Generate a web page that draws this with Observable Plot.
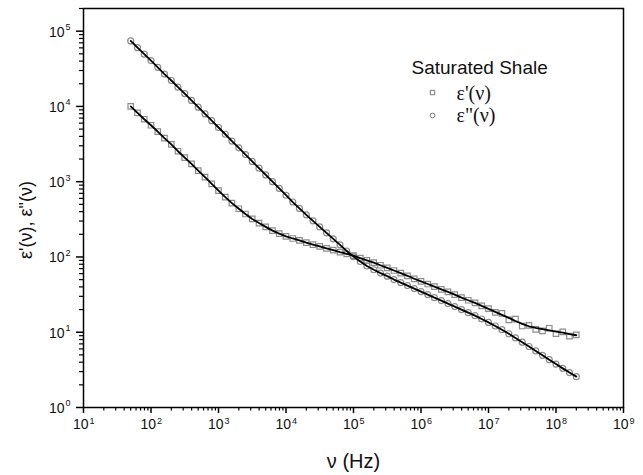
<!DOCTYPE html>
<html>
<head>
<meta charset="utf-8">
<script src="https://cdn.jsdelivr.net/npm/d3@7"></script>
<script src="https://cdn.jsdelivr.net/npm/@observablehq/plot@0.6"></script>
<style>
  html, body { margin: 0; padding: 0; background: #fff; }
  #chart { width: 643px; height: 475px; }
</style>
</head>
<body>
<div id="chart"></div>
<script>
// Frequencies (Hz)
const freq = [
  5.01e1, 6.31e1, 7.94e1,
  1.00e2, 1.26e2, 1.58e2, 2.00e2, 2.51e2, 3.16e2, 3.98e2, 5.01e2, 6.31e2, 7.94e2,
  1.00e3, 1.26e3, 1.58e3, 2.00e3, 2.51e3, 3.16e3, 3.98e3, 5.01e3, 6.31e3, 7.94e3,
  1.00e4, 1.26e4, 1.58e4, 2.00e4, 2.51e4, 3.16e4, 3.98e4, 5.01e4, 6.31e4, 7.94e4,
  1.00e5, 1.26e5, 1.58e5, 2.00e5, 2.51e5, 3.16e5, 3.98e5, 5.01e5, 6.31e5, 7.94e5,
  1.00e6, 1.26e6, 1.58e6, 2.00e6, 2.51e6, 3.16e6, 3.98e6, 5.01e6, 6.31e6, 7.94e6,
  1.00e7, 1.26e7, 1.58e7, 2.00e7, 2.51e7, 3.16e7, 3.98e7, 5.01e7, 6.31e7, 7.94e7,
  1.00e8, 1.26e8, 1.58e8, 2.00e8
];

// ε'(ν) measured (squares)
const epsReal = [
  1.00e4, 8.22e3, 6.76e3,
  5.62e3, 4.62e3, 3.80e3, 3.13e3, 2.54e3, 2.09e3, 1.72e3, 1.40e3, 1.15e3, 933,
  759, 624, 519, 437, 372, 320, 282, 251, 224, 204,
  188, 176, 166, 155, 146, 138, 130, 123, 116, 110,
  104, 96.6, 90.2, 84.1, 77.6, 71.6, 66.1, 61.0, 56.2, 51.3,
  47.3, 43.7, 40.3, 37.2, 34.3, 31.6, 28.8, 26.6, 24.5, 22.4,
  20.6, 18.4, 17.8, 14.6, 14.9, 12.1, 12.3, 10.9, 10.4, 11.3,
  9.6, 10.1, 8.9, 9.2
];

// ε'(ν) fitted curve (solid line)
const epsRealFit = [
  1.00e4, 8.22e3, 6.76e3,
  5.62e3, 4.62e3, 3.80e3, 3.13e3, 2.54e3, 2.09e3, 1.72e3, 1.40e3, 1.15e3, 933,
  759, 624, 519, 437, 372, 320, 282, 251, 224, 204,
  188, 176, 166, 155, 146, 138, 130, 123, 116, 110,
  104, 96.6, 90.2, 84.1, 77.6, 71.6, 66.1, 61.0, 56.2, 51.3,
  47.3, 43.7, 40.3, 37.2, 34.3, 31.6, 28.8, 26.6, 24.5, 22.4,
  20.4, 18.6, 17.0, 15.5, 14.1, 12.9, 12.0, 11.4, 11.0, 10.6,
  10.2, 9.89, 9.44, 9.12
];

// ε''(ν) measured (circles) and curve
const epsImag = [
  7.41e4, 6.03e4, 4.95e4,
  4.07e4, 3.31e4, 2.69e4, 2.21e4, 1.80e4, 1.48e4, 1.20e4, 9.77e3, 7.94e3, 6.46e3,
  5.25e3, 4.27e3, 3.47e3, 2.82e3, 2.29e3, 1.86e3, 1.51e3, 1.23e3, 1.00e3, 813,
  661, 537, 442, 363, 302, 251, 209, 174, 145, 120,
  101, 87.1, 75.9, 67.6, 61.0, 55.6, 50.1, 45.7, 41.7, 38.0,
  34.7, 31.6, 28.8, 26.3, 24.0, 21.9, 20.0, 18.2, 16.6, 15.0,
  13.5, 12.1, 10.8, 9.55, 8.41, 7.38, 6.46, 5.65, 4.94, 4.32,
  3.78, 3.31, 2.91, 2.57
];

// Axis ticks
const xTicks = [1e1, 1e2, 1e3, 1e4, 1e5, 1e6, 1e7, 1e8, 1e9];
const yTicks = [1e0, 1e1, 1e2, 1e3, 1e4, 1e5];
const mult = [2, 3, 4, 5, 6, 7, 8, 9];
const xMinor = xTicks.slice(0, -1).flatMap(d => mult.map(m => d * m));
const yMinor = yTicks.flatMap(d => mult.map(m => d * m)).filter(v => v <= 2e5);

const realPts = freq.map((f, i) => ({f, v: epsReal[i]}));
const realFit = freq.map((f, i) => ({f, v: epsRealFit[i]}));
const imagPts = freq.map((f, i) => ({f, v: epsImag[i]}));

const sans = "Liberation Sans, Arial, Helvetica, sans-serif";
const serif = "Liberation Serif, Times New Roman, serif";
const exp = d => String(Math.round(Math.log10(d)));

const chart = Plot.plot({
  width: 643,
  height: 475,
  marginLeft: 83,
  marginRight: 20,
  marginTop: 8,
  marginBottom: 68,
  style: {fontFamily: sans, background: "#fff", color: "#000"},
  x: {type: "log", domain: [10, 1e9]},
  y: {type: "log", domain: [1, 2e5]},
  marks: [
    // axes ticks
    Plot.axisX(xMinor, {anchor: "bottom", tickSize: 3.5, tickFormat: () => "", label: null, strokeWidth: 1.2}),
    Plot.axisX(xTicks, {anchor: "bottom", tickSize: 6, tickFormat: () => "", label: null, strokeWidth: 1.5}),
    Plot.axisY(yMinor, {anchor: "left", tickSize: 4, tickFormat: () => "", label: null, strokeWidth: 1.2}),
    Plot.axisY(yTicks, {anchor: "left", tickSize: 7, tickFormat: () => "", label: null, strokeWidth: 1.5}),
    // x tick labels
    Plot.text(xTicks, {x: d => d, frameAnchor: "bottom", lineAnchor: "middle", text: () => "10", textAnchor: "end", dx: 5, dy: 17.5, fontSize: 14, fill: "#111"}),
    Plot.text(xTicks, {x: d => d, frameAnchor: "bottom", lineAnchor: "middle", text: exp, textAnchor: "start", dx: 6, dy: 13.5, fontSize: 9, fill: "#111"}),
    // y tick labels
    Plot.text(yTicks, {y: d => d, frameAnchor: "left", lineAnchor: "middle", text: () => "10", textAnchor: "end", dx: -19, dy: 1, fontSize: 14, fill: "#111"}),
    Plot.text(yTicks, {y: d => d, frameAnchor: "left", lineAnchor: "middle", text: exp, textAnchor: "start", dx: -18, dy: -4, fontSize: 9, fill: "#111"}),
    // axis labels
    Plot.text(["ν (Hz)"], {text: d => d, frameAnchor: "bottom", lineAnchor: "middle", textAnchor: "middle", dy: 54, fontSize: 20, fill: "#111"}),
    Plot.text(["ε'(ν), ε\"(ν)"], {text: d => d, frameAnchor: "left", lineAnchor: "middle", textAnchor: "middle", rotate: -90, dx: -57, dy: 12, fontSize: 18, fill: "#111"}),
    // data markers
    Plot.dot(realPts, {x: "f", y: "v", symbol: "square", r: 3.1, stroke: "#8c8c8c", fill: "none", strokeWidth: 1.2}),
    Plot.dot(imagPts, {x: "f", y: "v", symbol: "circle", r: 3.0, stroke: "#8c8c8c", fill: "none", strokeWidth: 1.2}),
    // curves
    Plot.line(realFit, {x: "f", y: "v", stroke: "#000", strokeWidth: 1.8}),
    Plot.line(imagPts, {x: "f", y: "v", stroke: "#000", strokeWidth: 1.8}),
    // legend
    Plot.text(["Saturated Shale"], {text: d => d, frameAnchor: "top-left", lineAnchor: "middle", textAnchor: "start", dx: 328, dy: 59, fontSize: 19, fill: "#111"}),
    Plot.dot([0], {frameAnchor: "top-left", dx: 349, dy: 84, symbol: "square", r: 2.5, stroke: "#777", fill: "none", strokeWidth: 1}),
    Plot.dot([0], {frameAnchor: "top-left", dx: 349, dy: 107, symbol: "circle", r: 2.4, stroke: "#777", fill: "none", strokeWidth: 1}),
    Plot.text(["ε'(ν)"], {text: d => d, frameAnchor: "top-left", lineAnchor: "middle", textAnchor: "start", dx: 373, dy: 85, fontSize: 20, fontFamily: serif, fill: "#111"}),
    Plot.text(["ε\"(ν)"], {text: d => d, frameAnchor: "top-left", lineAnchor: "middle", textAnchor: "start", dx: 373, dy: 107, fontSize: 20, fontFamily: serif, fill: "#111"}),
    // frame
    Plot.frame({stroke: "#000", strokeWidth: 1.5})
  ]
});

document.getElementById("chart").appendChild(chart);
</script>
</body>
</html>
